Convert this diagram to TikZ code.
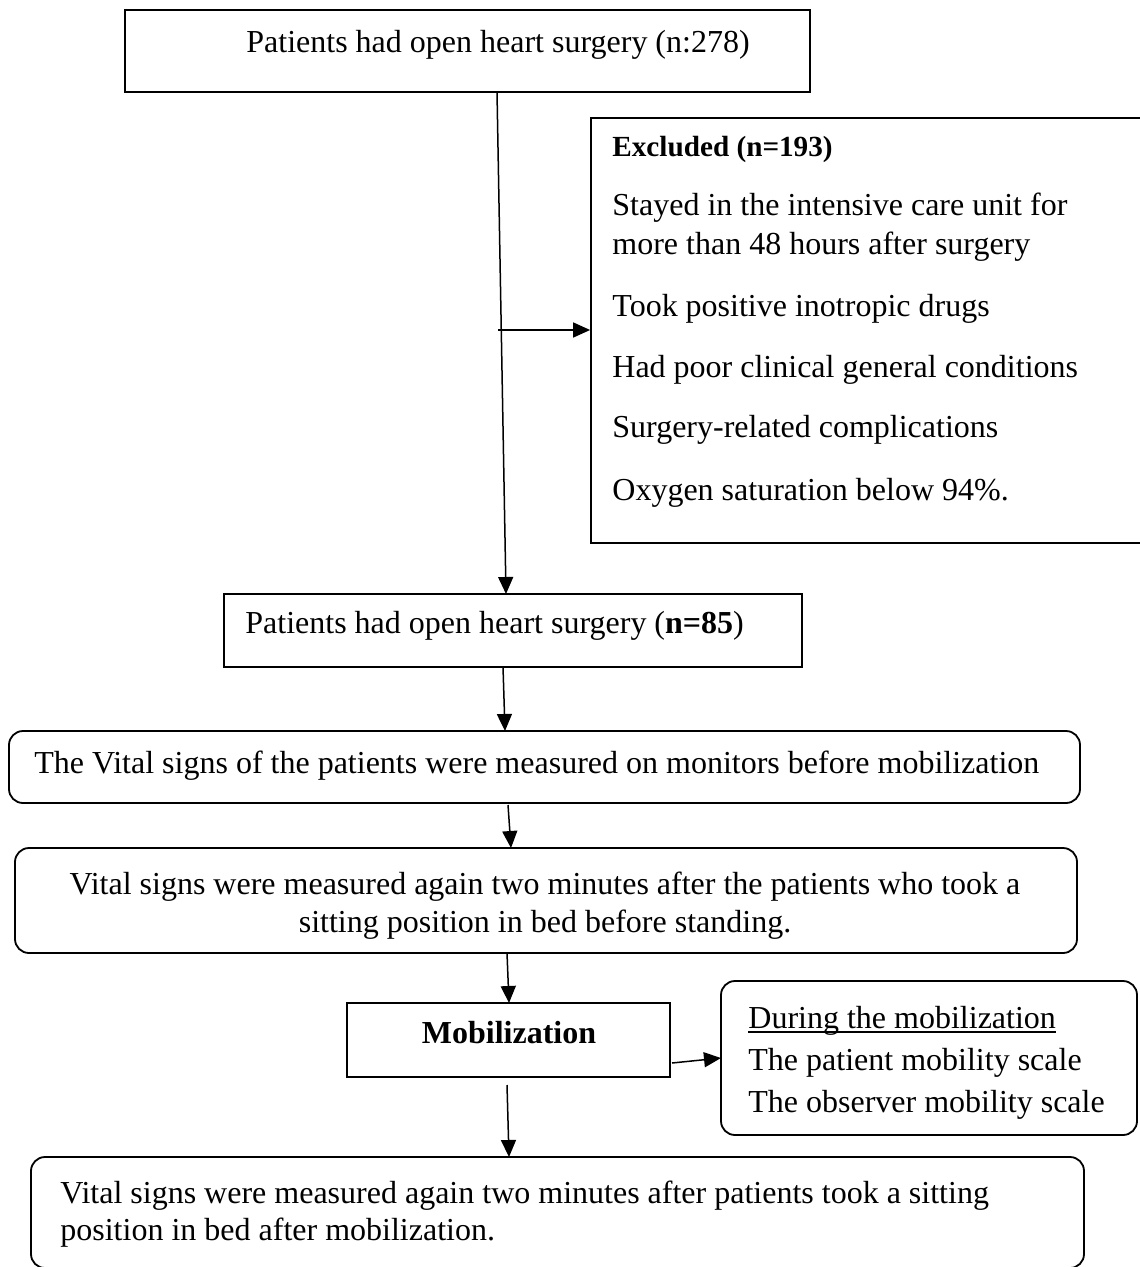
\documentclass[tikz,border=0pt]{standalone}
\usepackage{fontspec}
\setmainfont{Liberation Serif}
\usetikzlibrary{arrows.meta,fit,calc}
\begin{document}
\begin{tikzpicture}[x=0.5pt,y=-0.5pt,
  box/.style={draw,line width=0.9pt,rectangle,inner sep=0pt},
  rbox/.style={box,rounded corners=7pt},
  arr/.style={line width=0.75pt,-{Triangle[length=8.5pt,width=7.5pt]}},
  txt/.style={inner sep=0pt,font=\fontsize{16}{19.5}\selectfont},
  btxt/.style={inner sep=0pt,font=\fontsize{14.6}{18}\selectfont\bfseries}]
\useasboundingbox (0,0) rectangle (1139,1267);
\fill[white] (0,0) rectangle (1139,1267);

% boxes
\node[box,fit={(125,10) (810,92)}] (b1) {};
\node[box,fit={(591,118) (1160,543)}] (ex) {};
\node[box,fit={(224,594) (802,667)}] (b2) {};
\node[rbox,fit={(9,731) (1080,803)}] (b3) {};
\node[rbox,fit={(15,848) (1077,953)}] (b4) {};
\node[box,fit={(347,1003) (670,1077)}] (mob) {};
\node[rbox,fit={(721,981) (1137,1135)}] (dur) {};
\node[rbox,fit={(31,1157) (1084,1268)}] (b5) {};

% texts
\node[txt,anchor=base west] (t1) at (246,53) {Patients had open heart surgery (n:278)};
\node[btxt,anchor=base west] (e0) at (612,157) {Excluded (n=193)};
\node[txt,anchor=base west] (e1) at (612,216) {Stayed in the intensive care unit for};
\node[txt,anchor=base west] (e2) at (612,255) {more than 48 hours after surgery};
\node[txt,anchor=base west] (e3) at (612,316) {Took positive inotropic drugs};
\node[txt,anchor=base west] (e4) at (612,377) {Had poor clinical general conditions};
\node[txt,anchor=base west] (e5) at (612,437) {Surgery-related complications};
\node[txt,anchor=base west] (e6) at (612,500) {Oxygen saturation below 94\%.};
\node[txt,anchor=base west] (t2) at (245,633) {Patients had open heart surgery (\textbf{n=85})};
\node[txt,anchor=base west] (t3) at (34,773) {The Vital signs of the patients were measured on monitors before mobilization};
\node[txt,anchor=base] (t4a) at (545,894) {Vital signs were measured again two minutes after the patients who took a};
\node[txt,anchor=base] (t4b) at (545,932) {sitting position in bed before standing.};
\node[txt,anchor=base,font=\fontsize{16}{19.5}\selectfont\bfseries] (tm) at (509,1043) {Mobilization};
\node[txt,anchor=base west] (d1) at (748,1028) {During the mobilization};
\draw[line width=0.6pt] ($(d1.base west)+(0,4)$) -- ($(d1.base east)+(0,4)$);
\node[txt,anchor=base west] (d2) at (748,1070) {The patient mobility scale};
\node[txt,anchor=base west] (d3) at (748,1112) {The observer mobility scale};
\node[txt,anchor=base west] (t5a) at (60,1203) {Vital signs were measured again two minutes after patients took a sitting};
\node[txt,anchor=base west] (t5b) at (60,1240) {position in bed after mobilization.};

% connectors
\coordinate (a1s) at (497,92);
\coordinate (a1e) at (506,594);
\coordinate (j) at (498,330);
\draw[arr] (a1s) -- (a1e);
\draw[arr] (j) -- (j -| ex.west);
\coordinate (a2s) at (503,667);
\coordinate (a2e) at (505,731);
\draw[arr] (a2s) -- (a2e);
\coordinate (a3s) at (508,805);
\coordinate (a3e) at (511,848);
\draw[arr] (a3s) -- (a3e);
\coordinate (a4s) at (507,953);
\coordinate (a4e) at (509,1003);
\draw[arr] (a4s) -- (a4e);
\coordinate (a5s) at (672,1063);
\coordinate (a5e) at (721,1058);
\draw[arr] (a5s) -- (a5e);
\coordinate (a6s) at (507,1085);
\coordinate (a6e) at (509,1157);
\draw[arr] (a6s) -- (a6e);
\end{tikzpicture}
\end{document}
